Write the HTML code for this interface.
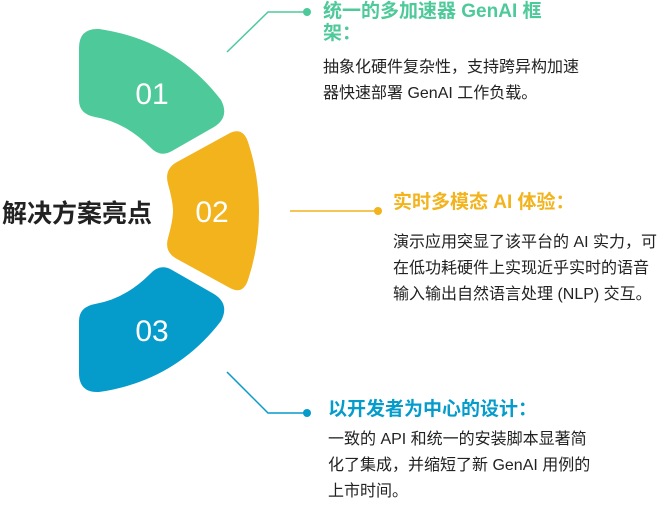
<!DOCTYPE html>
<html><head><meta charset="utf-8"><style>
html,body{margin:0;padding:0;background:#fff;}
body{width:661px;height:531px;position:relative;overflow:hidden;font-family:"Liberation Sans","Noto Sans CJK SC",sans-serif;}
.t{position:absolute;font-weight:bold;font-size:19px;line-height:22px;white-space:nowrap;}
.b{position:absolute;font-size:16px;line-height:26px;color:#222;white-space:nowrap;}
.h{position:absolute;left:2px;top:194px;font-size:25px;font-weight:bold;color:#222;}
</style></head><body>
<svg width="661" height="531" style="position:absolute;left:0;top:0">
<path d="M79,48 Q79,28 99,29 Q175,40 221,100 Q230,117 214,127 L172,151 Q160,158 150,147 Q125,122 95,117 Q79,114 79,100 Z" fill="#4ec99a"/>
<path d="M79,373 Q79,393 99,392 Q175,381 221,321 Q230,304 214,294 L172,270 Q160,263 150,274 Q125,299 95,304 Q79,307 79,321 Z" fill="#059ccc"/>
<path d="M177,162 L230,133 Q243,127 248,142 Q259,175 259,211 Q259,247 248,280 Q243,295 230,288 L177,259 Q164,252 168,238 Q173,220 173,211 Q173,202 168,184 Q164,169 177,162 Z" fill="#f2b31c"/>
<text x="152" y="104" font-family="Liberation Sans" font-size="30" fill="#fff" text-anchor="middle">01</text>
<text x="212" y="222" font-family="Liberation Sans" font-size="30" fill="#fff" text-anchor="middle">02</text>
<text x="152" y="341" font-family="Liberation Sans" font-size="30" fill="#fff" text-anchor="middle">03</text>
<polyline points="227,52 268,12 307,12" fill="none" stroke="#4ec99a" stroke-width="1.5"/>
<circle cx="307" cy="12" r="4" fill="#4ec99a"/>
<line x1="290" y1="211" x2="378" y2="211" stroke="#f2b31c" stroke-width="1.5"/>
<circle cx="378" cy="211" r="4" fill="#f2b31c"/>
<polyline points="227,372 268,413 307,413" fill="none" stroke="#059ccc" stroke-width="1.5"/>
<circle cx="307" cy="413" r="4" fill="#059ccc"/>
</svg>
<div class="h">解决方案亮点</div>
<div class="t" style="left:323px;top:1px;color:#4ec99a">统一的多加速器 GenAI 框<br>架：</div>
<div class="b" style="left:323px;top:55px">抽象化硬件复杂性，支持跨异构加速<br>器快速部署 GenAI 工作负载。</div>
<div class="t" style="left:393px;top:192px;color:#f2b31c">实时多模态 AI 体验：</div>
<div class="b" style="left:393px;top:230px">演示应用突显了该平台的 AI 实力，可<br>在低功耗硬件上实现近乎实时的语音<br>输入输出自然语言处理 (NLP) 交互。</div>
<div class="t" style="left:328px;top:399px;color:#059ccc">以开发者为中心的设计：</div>
<div class="b" style="left:328px;top:427px">一致的 API 和统一的安装脚本显著简<br>化了集成，并缩短了新 GenAI 用例的<br>上市时间。</div>
</body></html>
